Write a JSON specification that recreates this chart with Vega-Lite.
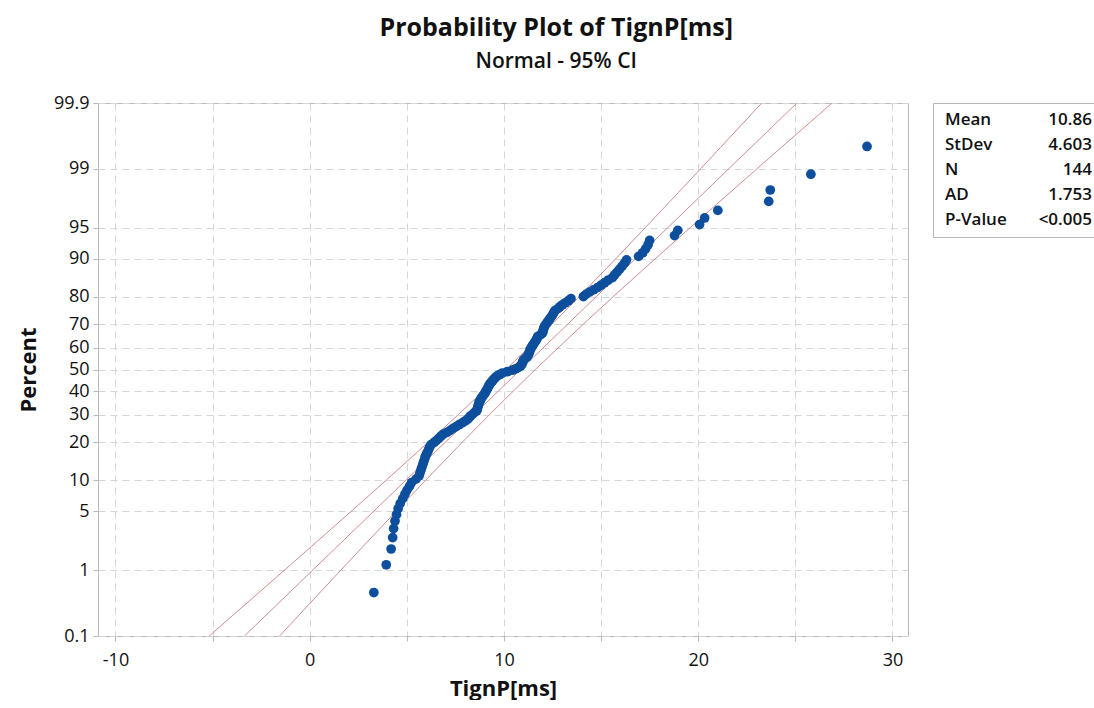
{
  "$schema": "https://vega.github.io/schema/vega-lite/v6.json",
  "padding": {"left": 16, "top": 15, "right": 0, "bottom": 0},
  "background": "white",
  "title": {
    "text": "Probability Plot of TignP[ms]",
    "subtitle": "Normal - 95% CI",
    "anchor": "middle",
    "font": "Open Sans",
    "fontSize": 25,
    "fontWeight": "bold",
    "color": "#111111",
    "subtitleFont": "Open Sans",
    "subtitleFontSize": 21,
    "subtitleFontWeight": 600,
    "subtitleColor": "#111111",
    "subtitlePadding": 10,
    "offset": 22
  },
  "config": {
    "font": "Open Sans",
    "view": {"stroke": "#b8b8b8", "strokeWidth": 1},
    "axis": {
      "labelFont": "Open Sans",
      "titleFont": "Open Sans",
      "labelFontSize": 18,
      "labelColor": "#111111",
      "titleColor": "#111111",
      "titleFontSize": 22,
      "titleFontWeight": "bold",
      "labelOverlap": false,
      "domain": false,
      "tickColor": "#b8b8b8",
      "tickSize": 5,
      "tickCount": 40,
      "gridColor": "#d6d6d6",
      "gridDash": [7, 5],
      "gridWidth": 1
    }
  },
  "datasets": {
    "points": [
      {"percent": 0.485, "value": 3.30}, {"percent": 1.177, "value": 3.94}, {"percent": 1.870, "value": 4.19}, {"percent": 2.562, "value": 4.27},
      {"percent": 3.255, "value": 4.32}, {"percent": 3.947, "value": 4.39}, {"percent": 4.640, "value": 4.47}, {"percent": 5.332, "value": 4.55},
      {"percent": 6.025, "value": 4.66}, {"percent": 6.717, "value": 4.79}, {"percent": 7.410, "value": 4.90}, {"percent": 8.102, "value": 5.01},
      {"percent": 8.795, "value": 5.14}, {"percent": 9.488, "value": 5.24}, {"percent": 10.180, "value": 5.47}, {"percent": 10.873, "value": 5.63},
      {"percent": 11.565, "value": 5.68}, {"percent": 12.258, "value": 5.73}, {"percent": 12.950, "value": 5.78}, {"percent": 13.643, "value": 5.83},
      {"percent": 14.335, "value": 5.87}, {"percent": 15.028, "value": 5.92}, {"percent": 15.720, "value": 5.96}, {"percent": 16.413, "value": 6.02},
      {"percent": 17.105, "value": 6.08}, {"percent": 17.798, "value": 6.13}, {"percent": 18.490, "value": 6.18}, {"percent": 19.183, "value": 6.25},
      {"percent": 19.875, "value": 6.40}, {"percent": 20.568, "value": 6.53}, {"percent": 21.260, "value": 6.65}, {"percent": 21.953, "value": 6.75},
      {"percent": 22.645, "value": 6.87}, {"percent": 23.338, "value": 7.07}, {"percent": 24.030, "value": 7.23}, {"percent": 24.723, "value": 7.38},
      {"percent": 25.416, "value": 7.54}, {"percent": 26.108, "value": 7.69}, {"percent": 26.801, "value": 7.85}, {"percent": 27.493, "value": 8.00},
      {"percent": 28.186, "value": 8.13}, {"percent": 28.878, "value": 8.21}, {"percent": 29.571, "value": 8.29}, {"percent": 30.263, "value": 8.39},
      {"percent": 30.956, "value": 8.49}, {"percent": 31.648, "value": 8.60}, {"percent": 32.341, "value": 8.63}, {"percent": 33.033, "value": 8.65},
      {"percent": 33.726, "value": 8.67}, {"percent": 34.418, "value": 8.70}, {"percent": 35.111, "value": 8.71}, {"percent": 35.803, "value": 8.78},
      {"percent": 36.496, "value": 8.80}, {"percent": 37.188, "value": 8.85}, {"percent": 37.881, "value": 8.91}, {"percent": 38.573, "value": 8.96},
      {"percent": 39.266, "value": 9.03}, {"percent": 39.958, "value": 9.06}, {"percent": 40.651, "value": 9.11}, {"percent": 41.343, "value": 9.16},
      {"percent": 42.036, "value": 9.19}, {"percent": 42.729, "value": 9.23}, {"percent": 43.421, "value": 9.29}, {"percent": 44.114, "value": 9.34},
      {"percent": 44.806, "value": 9.42}, {"percent": 45.499, "value": 9.47}, {"percent": 46.191, "value": 9.55}, {"percent": 46.884, "value": 9.63},
      {"percent": 47.576, "value": 9.76}, {"percent": 48.269, "value": 9.91}, {"percent": 48.961, "value": 10.17}, {"percent": 49.654, "value": 10.43},
      {"percent": 50.346, "value": 10.61}, {"percent": 51.039, "value": 10.76}, {"percent": 51.731, "value": 10.87}, {"percent": 52.424, "value": 10.92},
      {"percent": 53.116, "value": 10.95}, {"percent": 53.809, "value": 10.98}, {"percent": 54.501, "value": 11.02}, {"percent": 55.194, "value": 11.10},
      {"percent": 55.886, "value": 11.20}, {"percent": 56.579, "value": 11.24}, {"percent": 57.271, "value": 11.28}, {"percent": 57.964, "value": 11.31},
      {"percent": 58.657, "value": 11.33}, {"percent": 59.349, "value": 11.36}, {"percent": 60.042, "value": 11.41}, {"percent": 60.734, "value": 11.46},
      {"percent": 61.427, "value": 11.51}, {"percent": 62.119, "value": 11.56}, {"percent": 62.812, "value": 11.62}, {"percent": 63.504, "value": 11.67},
      {"percent": 64.197, "value": 11.71}, {"percent": 64.889, "value": 11.74}, {"percent": 65.582, "value": 11.87}, {"percent": 66.274, "value": 11.98},
      {"percent": 66.967, "value": 12.00}, {"percent": 67.659, "value": 12.03}, {"percent": 68.352, "value": 12.05}, {"percent": 69.044, "value": 12.08},
      {"percent": 69.737, "value": 12.13}, {"percent": 70.429, "value": 12.20}, {"percent": 71.122, "value": 12.26}, {"percent": 71.814, "value": 12.33},
      {"percent": 72.507, "value": 12.39}, {"percent": 73.199, "value": 12.46}, {"percent": 73.892, "value": 12.52}, {"percent": 74.584, "value": 12.57},
      {"percent": 75.277, "value": 12.62}, {"percent": 75.970, "value": 12.78}, {"percent": 76.662, "value": 12.88}, {"percent": 77.355, "value": 13.01},
      {"percent": 78.047, "value": 13.16}, {"percent": 78.740, "value": 13.32}, {"percent": 79.432, "value": 13.45}, {"percent": 80.125, "value": 14.09},
      {"percent": 80.817, "value": 14.22}, {"percent": 81.510, "value": 14.40}, {"percent": 82.202, "value": 14.61}, {"percent": 82.895, "value": 14.82},
      {"percent": 83.587, "value": 15.00}, {"percent": 84.280, "value": 15.18}, {"percent": 84.972, "value": 15.36}, {"percent": 85.665, "value": 15.59},
      {"percent": 86.357, "value": 15.69}, {"percent": 87.050, "value": 15.82}, {"percent": 87.742, "value": 15.95}, {"percent": 88.435, "value": 16.08},
      {"percent": 89.127, "value": 16.20}, {"percent": 89.820, "value": 16.31}, {"percent": 90.512, "value": 16.93}, {"percent": 91.205, "value": 17.14},
      {"percent": 91.898, "value": 17.29}, {"percent": 92.590, "value": 17.42}, {"percent": 93.283, "value": 17.50}, {"percent": 93.975, "value": 18.78},
      {"percent": 94.668, "value": 18.95}, {"percent": 95.360, "value": 20.07}, {"percent": 96.053, "value": 20.33}, {"percent": 96.745, "value": 21.01},
      {"percent": 97.438, "value": 23.63}, {"percent": 98.130, "value": 23.71}, {"percent": 98.823, "value": 25.80}, {"percent": 99.515, "value": 28.69}
    ],
    "ci": [
      {"line": "lower", "percent": 0.1, "value": -5.175}, {"line": "lower", "percent": 0.5, "value": -2.563}, {"line": "lower", "percent": 1, "value": -1.300},
      {"line": "lower", "percent": 2, "value": 0.078}, {"line": "lower", "percent": 5, "value": 2.133}, {"line": "lower", "percent": 10, "value": 3.945},
      {"line": "lower", "percent": 20, "value": 6.110}, {"line": "lower", "percent": 30, "value": 7.644}, {"line": "lower", "percent": 50, "value": 10.108},
      {"line": "lower", "percent": 70, "value": 12.472}, {"line": "lower", "percent": 80, "value": 13.858}, {"line": "lower", "percent": 90, "value": 15.743},
      {"line": "lower", "percent": 95, "value": 17.275}, {"line": "lower", "percent": 98, "value": 18.984}, {"line": "lower", "percent": 99, "value": 20.118},
      {"line": "lower", "percent": 99.5, "value": 21.151}, {"line": "lower", "percent": 99.9, "value": 23.271},
      {"line": "fit", "percent": 0.1, "value": -3.363}, {"line": "fit", "percent": 50, "value": 10.86}, {"line": "fit", "percent": 99.9, "value": 25.083},
      {"line": "upper", "percent": 0.1, "value": -1.551}, {"line": "upper", "percent": 0.5, "value": 0.569}, {"line": "upper", "percent": 1, "value": 1.602},
      {"line": "upper", "percent": 2, "value": 2.736}, {"line": "upper", "percent": 5, "value": 4.445}, {"line": "upper", "percent": 10, "value": 5.977},
      {"line": "upper", "percent": 20, "value": 7.862}, {"line": "upper", "percent": 30, "value": 9.248}, {"line": "upper", "percent": 50, "value": 11.612},
      {"line": "upper", "percent": 70, "value": 14.076}, {"line": "upper", "percent": 80, "value": 15.610}, {"line": "upper", "percent": 90, "value": 17.775},
      {"line": "upper", "percent": 95, "value": 19.587}, {"line": "upper", "percent": 98, "value": 21.642}, {"line": "upper", "percent": 99, "value": 23.020},
      {"line": "upper", "percent": 99.5, "value": 24.283}, {"line": "upper", "percent": 99.9, "value": 26.895}
    ],
    "stats": [
      {"stat": "Mean", "value": "10.86"},
      {"stat": "StDev", "value": "4.603"},
      {"stat": "N", "value": "144"},
      {"stat": "AD", "value": "1.753"},
      {"stat": "P-Value", "value": "<0.005"}
    ]
  },
  "hconcat": [
    {
      "width": 810,
      "height": 533,
      "layer": [
        {
          "data": {"name": "ci"},
          "transform": [{"calculate": "quantileNormal(datum.percent / 100)", "as": "z"}],
          "mark": {"type": "line", "color": "#d08c91", "strokeWidth": 1, "clip": true},
          "encoding": {
            "x": {
              "field": "value", "type": "quantitative",
              "scale": {"domain": [-10.9, 30.8], "nice": false, "zero": false},
              "axis": {
                "title": "TignP[ms]",
                "values": [-10, -5, 0, 5, 10, 15, 20, 25, 30],
                "tickCount": 40,
                "labelExpr": "datum.value % 10 === 0 ? (datum.value < 0 ? '-' + abs(datum.value) : '' + datum.value) : ''",
                "labelPadding": 10,
                "titlePadding": 9,
                "grid": true
              }
            },
            "y": {
              "field": "z", "type": "quantitative",
              "scale": {"domain": [-3.0902, 3.0902], "nice": false, "zero": false},
              "axis": {
                "title": "Percent",
                "values": [-3.0902, -2.3263, -1.6449, -1.2816, -0.8416, -0.5244, -0.2533, 0, 0.2533, 0.5244, 0.8416, 1.2816, 1.6449, 2.3263, 3.0902],
                "tickCount": 40,
                "labelExpr": "format(cumulativeNormal(datum.value) * 100, '.3~r')",
                "labelPadding": 4,
                "titlePadding": 13,
                "grid": true
              }
            },
            "detail": {"field": "line"}
          }
        },
        {
          "data": {"name": "points"},
          "transform": [{"calculate": "quantileNormal(datum.percent / 100)", "as": "z"}],
          "mark": {"type": "circle", "size": 95, "color": "#0d4f9c", "opacity": 1},
          "encoding": {
            "x": {"field": "value", "type": "quantitative"},
            "y": {"field": "z", "type": "quantitative"}
          }
        }
      ]
    },
    {
      "width": 162,
      "height": 134,
      "data": {"name": "stats"},
      "layer": [
        {
          "mark": {"type": "text", "align": "left", "baseline": "middle", "fontSize": 17, "fontWeight": 600, "color": "#111111", "font": "Open Sans"},
          "encoding": {
            "y": {"field": "stat", "type": "ordinal", "sort": null, "axis": null, "scale": {"type": "point", "padding": 0.68}},
            "x": {"datum": 0, "type": "quantitative", "axis": null, "scale": {"domain": [-0.0817, 1.021], "nice": false, "zero": false}},
            "text": {"field": "stat"}
          }
        },
        {
          "mark": {"type": "text", "align": "right", "baseline": "middle", "fontSize": 17, "fontWeight": 600, "color": "#111111", "font": "Open Sans"},
          "encoding": {
            "y": {"field": "stat", "type": "ordinal", "sort": null, "axis": null},
            "x": {"datum": 1, "type": "quantitative", "axis": null},
            "text": {"field": "value"}
          }
        }
      ]
    }
  ],
  "spacing": 23
}
